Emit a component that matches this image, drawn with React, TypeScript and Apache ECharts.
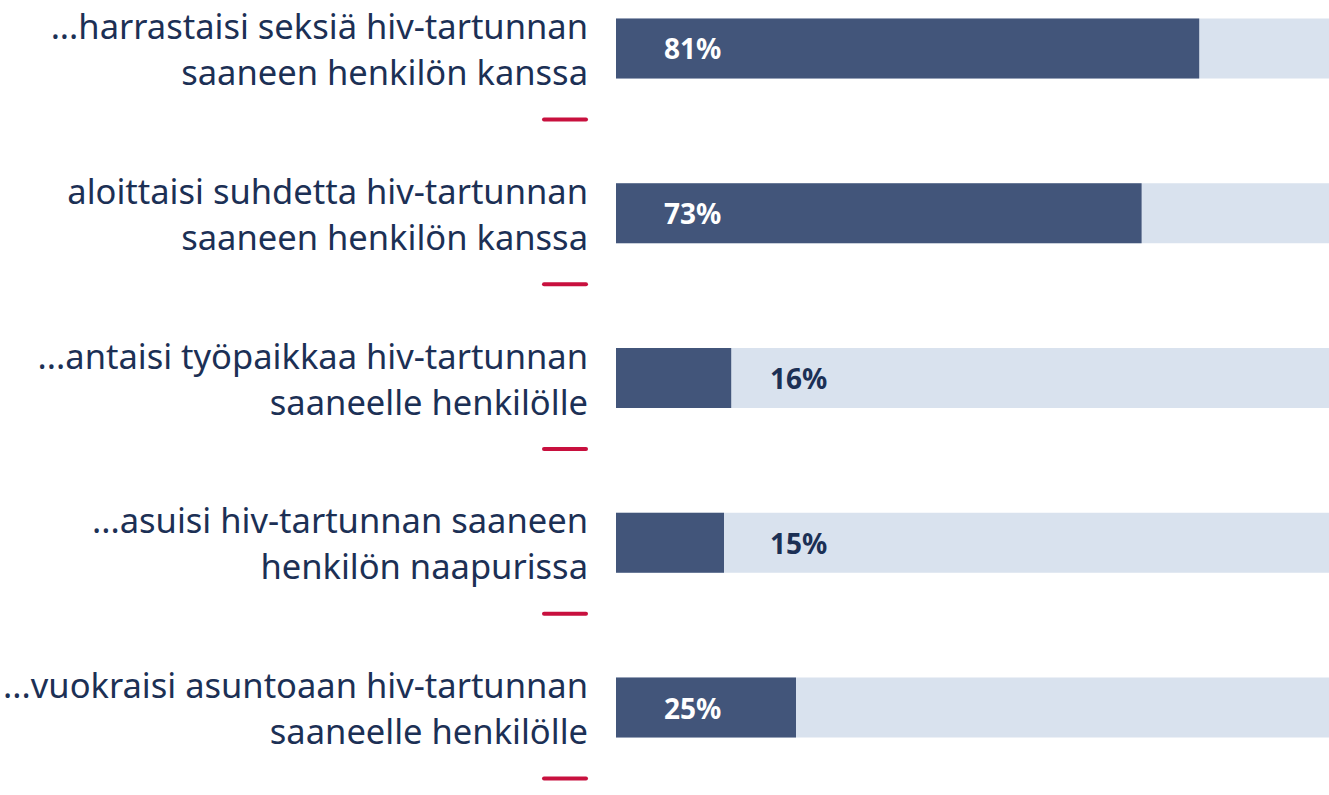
import React, { useEffect, useRef } from "react";
import * as echarts from "echarts";

const categories: string[][] = [
  ["...harrastaisi seksiä hiv-tartunnan", "saaneen henkilön kanssa"],
  ["aloittaisi suhdetta hiv-tartunnan", "saaneen henkilön kanssa"],
  ["...antaisi työpaikkaa hiv-tartunnan", "saaneelle henkilölle"],
  ["...asuisi hiv-tartunnan saaneen", "henkilön naapurissa"],
  ["...vuokraisi asuntoaan hiv-tartunnan", "saaneelle henkilölle"],
];
const values: number[] = [81, 73, 16, 15, 25];
const axisMax = 100;

const TEXT = "#1c3055";
const BAR = "#42557a";
const BG = "#d9e2ee";
const RED = "#c8103e";

export default function App() {
  const ref = useRef<HTMLDivElement>(null);
  useEffect(() => {
    const chart = echarts.init(ref.current!, null, { renderer: "svg" });
    const names = categories.map((l) => l.join("\n"));
    const labelBase = {
      show: true,
      formatter: "{c}%",
      fontFamily: "Noto Sans",
      fontWeight: 700,
      fontSize: 28,
      align: "left",
      verticalAlign: "middle",
    };
    chart.setOption({
      animation: false,
      grid: { left: 616, right: 0, top: 0, height: 824, containLabel: false },
      xAxis: {
        type: "value",
        min: 0,
        max: axisMax,
        show: false,
      },
      yAxis: {
        type: "category",
        inverse: true,
        data: names,
        axisLine: { show: false },
        axisTick: { show: false },
        splitLine: { show: false },
        axisLabel: {
          margin: 28,
          color: TEXT,
          fontFamily: "Noto Sans",
          fontSize: 34.5,
          lineHeight: 46,
          align: "right",
          padding: [24, 0, 0, 0],
        },
      },
      series: [
        {
          type: "bar",
          data: values.map((v) => ({
            value: v,
            label:
              v < 20
                ? { ...labelBase, position: [154, "50%"], color: TEXT }
                : { ...labelBase, position: [48, "50%"], color: "#ffffff" },
          })),
          barWidth: 60,
          itemStyle: { color: BAR },
          showBackground: true,
          backgroundStyle: { color: BG },
        },
      ],
    });
    const graphics = names.map((_, i) => {
      const y = chart.convertToPixel({ yAxisIndex: 0 }, i) as number;
      return {
        type: "line",
        shape: { x1: 544, y1: y + 71, x2: 586, y2: y + 71 },
        style: { stroke: RED, lineWidth: 4, lineCap: "round" },
      };
    });
    chart.setOption({ graphic: graphics });
    return () => chart.dispose();
  }, []);
  return (
    <div
      style={{
        position: "absolute",
        left: 0,
        top: 0,
        width: 1329,
        height: 795,
        overflow: "hidden",
      }}
    >
      <div
        ref={ref}
        style={{ position: "absolute", left: 0, top: -34, width: 1336, height: 834 }}
      />
    </div>
  );
}
